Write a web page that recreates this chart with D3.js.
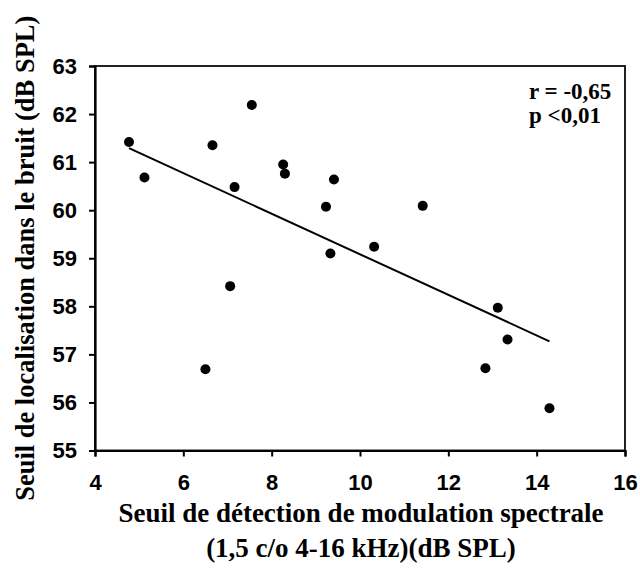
<!DOCTYPE html>
<html>
<head>
<meta charset="utf-8">
<script src="https://cdn.jsdelivr.net/npm/d3@7"></script>
<style>
  html, body { margin: 0; padding: 0; background: #fff; }
  svg { display: block; }
</style>
</head>
<body>
<svg id="chart" width="640" height="569"></svg>
<script>
// ---- data ----
const xValues = [4.77, 5.12, 6.66, 7.55, 7.16, 8.26, 8.30, 9.41, 9.23, 11.42, 7.06, 6.50, 9.33, 10.32, 13.12, 13.34, 12.84, 14.29];
const yValues = [61.42, 60.68, 61.35, 62.19, 60.48, 60.95, 60.76, 60.64, 60.07, 60.09, 58.42, 56.69, 59.10, 59.24, 57.97, 57.31, 56.71, 55.88];
const xTicks = [4, 6, 8, 10, 12, 14, 16];
const yTicks = [55, 56, 57, 58, 59, 60, 61, 62, 63];
const statLines = ["r = -0,65", "p <0,01"];
const xTitleLines = ["Seuil de détection de modulation spectrale", "(1,5 c/o 4-16 kHz)(dB SPL)"];
const yTitle = "Seuil de localisation dans le bruit (dB SPL)";

// ---- layout ----
const svg = d3.select("#chart");
const pLeft = 95, pRight = 625, pTop = 66, pBottom = 450.5;
const x = d3.scaleLinear().domain([4, 16]).range([pLeft, pRight]);
const y = d3.scaleLinear().domain([55, 63]).range([pBottom, pTop]);

const tickFont = "'Liberation Sans', Arial, sans-serif";
const serif = "'Liberation Serif', 'Times New Roman', serif";

// frame (top and right)
svg.append("rect")
  .attr("x", pLeft).attr("y", pTop)
  .attr("width", pRight - pLeft).attr("height", pBottom - pTop)
  .attr("fill", "none").attr("stroke", "#222").attr("stroke-width", 2);

// axes
const xAxis = svg.append("g")
  .attr("transform", `translate(0,${pBottom})`)
  .call(d3.axisBottom(x).tickValues(xTicks).tickSize(6).tickPadding(18).tickFormat(d3.format("d")));
const yAxis = svg.append("g")
  .attr("transform", `translate(${pLeft},0)`)
  .call(d3.axisLeft(y).tickValues(yTicks).tickSize(6).tickPadding(12).tickFormat(d3.format("d")));

[xAxis, yAxis].forEach(g => {
  g.select(".domain").attr("stroke", "#000").attr("stroke-width", 2.2);
  g.selectAll(".tick line").attr("stroke", "#000").attr("stroke-width", 2);
  g.selectAll(".tick text")
    .attr("fill", "#000")
    .style("font-family", tickFont)
    .style("font-weight", "bold")
    .style("font-size", "22px");
});

// regression line (least squares from the data)
const mx = d3.mean(xValues), my = d3.mean(yValues);
let sxy = 0, sxx = 0;
xValues.forEach((v, i) => { sxy += (v - mx) * (yValues[i] - my); sxx += (v - mx) * (v - mx); });
const slope = sxy / sxx, intercept = my - slope * mx;
const [x0, x1] = d3.extent(xValues);
svg.append("line")
  .attr("x1", x(x0)).attr("y1", y(intercept + slope * x0))
  .attr("x2", x(x1)).attr("y2", y(intercept + slope * x1))
  .attr("stroke", "#000").attr("stroke-width", 2);

// points
svg.append("g").selectAll("circle")
  .data(xValues.map((v, i) => [v, yValues[i]]))
  .join("circle")
  .attr("cx", d => x(d[0])).attr("cy", d => y(d[1]))
  .attr("r", 5).attr("fill", "#000");

// stats annotation
svg.append("g").selectAll("text")
  .data(statLines)
  .join("text")
  .attr("x", 529).attr("y", (d, i) => 99 + i * 24)
  .style("font-family", serif).style("font-weight", "bold").style("font-size", "23px")
  .attr("fill", "#000")
  .text(d => d);

// x title
svg.append("g").selectAll("text")
  .data(xTitleLines)
  .join("text")
  .attr("x", (pLeft + pRight) / 2 + 1).attr("y", (d, i) => 522 + i * 35)
  .attr("text-anchor", "middle")
  .style("font-family", serif).style("font-weight", "bold").style("font-size", "27px")
  .attr("fill", "#000")
  .text(d => d);

// y title
svg.append("text")
  .attr("transform", `translate(34,${(pTop + pBottom) / 2}) rotate(-90)`)
  .attr("text-anchor", "middle")
  .style("font-family", serif).style("font-weight", "bold").style("font-size", "26.5px")
  .attr("fill", "#000")
  .text(yTitle);
</script>
</body>
</html>
